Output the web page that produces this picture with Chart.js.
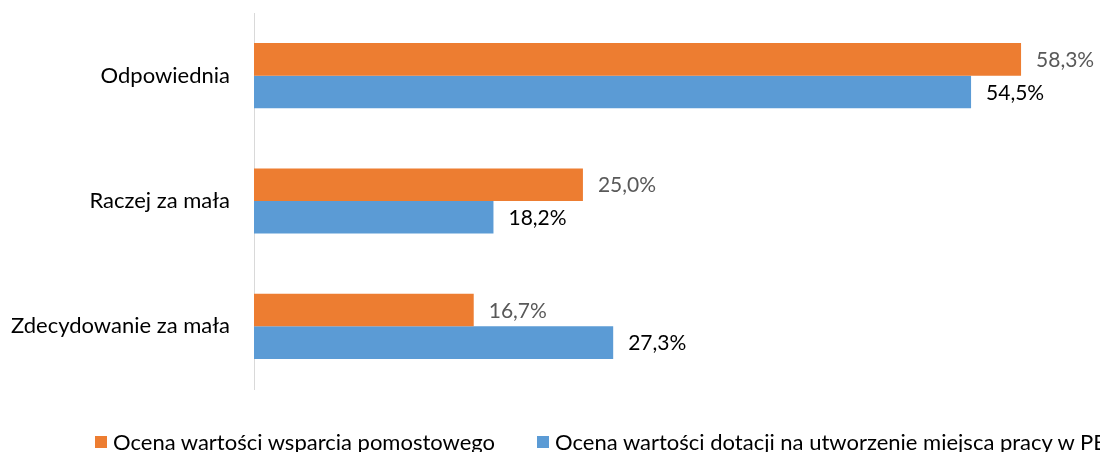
<!DOCTYPE html>
<html lang="pl">
<head>
<meta charset="utf-8">
<script src="https://cdn.jsdelivr.net/npm/chart.js@4.4.1/dist/chart.umd.min.js"></script>
<style>
  html, body { margin: 0; padding: 0; background: #fff; overflow: hidden; }
  #wrap { position: relative; width: 1100px; height: 452px; }
  #legend { position: absolute; left: 95px; top: 426px; white-space: nowrap;
            font: 22px Lato, sans-serif; color: #000; line-height: 28px; }
  #legend span.item { display: inline-flex; align-items: center; margin-right: 42px; }
  #legend span.box { display: inline-block; width: 12px; height: 12px; margin-right: 6px; }
</style>
</head>
<body>
<div id="wrap">
  <canvas id="chart" width="1100" height="452"></canvas>
  <div id="legend"></div>
</div>
<script>
// dane
const categories = ['Odpowiednia', 'Raczej za mała', 'Zdecydowanie za mała'];
const seriesNames = [
  'Ocena wartości wsparcia pomostowego',
  'Ocena wartości dotacji na utworzenie miejsca pracy w PES'
];
const pomostowe = [58.3, 25.0, 16.7];
const dotacja = [54.5, 18.2, 27.3];
const seriesColors = ['#ED7D31', '#5B9BD5'];
const labelColors = ['#595959', '#000000'];

const FONT = 'Lato, "Liberation Sans", sans-serif';

// etykiety danych (bez pluginu datalabels)
const valueLabels = {
  id: 'valueLabels',
  afterDatasetsDraw(chart) {
    const ctx = chart.ctx;
    ctx.save();
    ctx.font = '21px ' + FONT;
    ctx.textBaseline = 'middle';
    ctx.textAlign = 'left';
    chart.data.datasets.forEach((ds, i) => {
      chart.getDatasetMeta(i).data.forEach((bar, j) => {
        ctx.fillStyle = labelColors[i];
        const txt = ds.data[j].toFixed(1).replace('.', ',') + '%';
        ctx.fillText(txt, bar.x + 15, bar.y + 1);
      });
    });
    ctx.restore();
  }
};

const chart = new Chart(document.getElementById('chart'), {
  type: 'bar',
  data: {
    labels: categories,
    datasets: [
      { label: seriesNames[0], data: pomostowe, backgroundColor: seriesColors[0],
        categoryPercentage: 0.52, barPercentage: 1 },
      { label: seriesNames[1], data: dotacja, backgroundColor: seriesColors[1],
        categoryPercentage: 0.52, barPercentage: 1 }
    ]
  },
  options: {
    indexAxis: 'y',
    responsive: false,
    animation: false,
    layout: { padding: { top: 13, bottom: 63, left: 0, right: 0 } },
    plugins: {
      legend: { display: false },
      tooltip: { enabled: false }
    },
    scales: {
      x: { display: false, min: 0, max: 64.3 },
      y: {
        grid: { display: false },
        border: { display: true, color: '#d9d9d9', width: 1 },
        ticks: { color: '#000', font: { family: FONT, size: 22 }, padding: 16 },
        afterFit(scale) {
          scale.width = 254;
          scale.paddingTop = 0;
          scale.paddingBottom = 0;
        }
      }
    }
  },
  plugins: [valueLabels]
});

// legenda w HTML (ucięta przy prawej krawędzi jak w oryginale)
const legend = document.getElementById('legend');
seriesNames.forEach((name, i) => {
  const item = document.createElement('span');
  item.className = 'item';
  item.innerHTML = '<span class="box" style="background:' + seriesColors[i] + '"></span>' + name;
  legend.appendChild(item);
});
</script>
</body>
</html>
